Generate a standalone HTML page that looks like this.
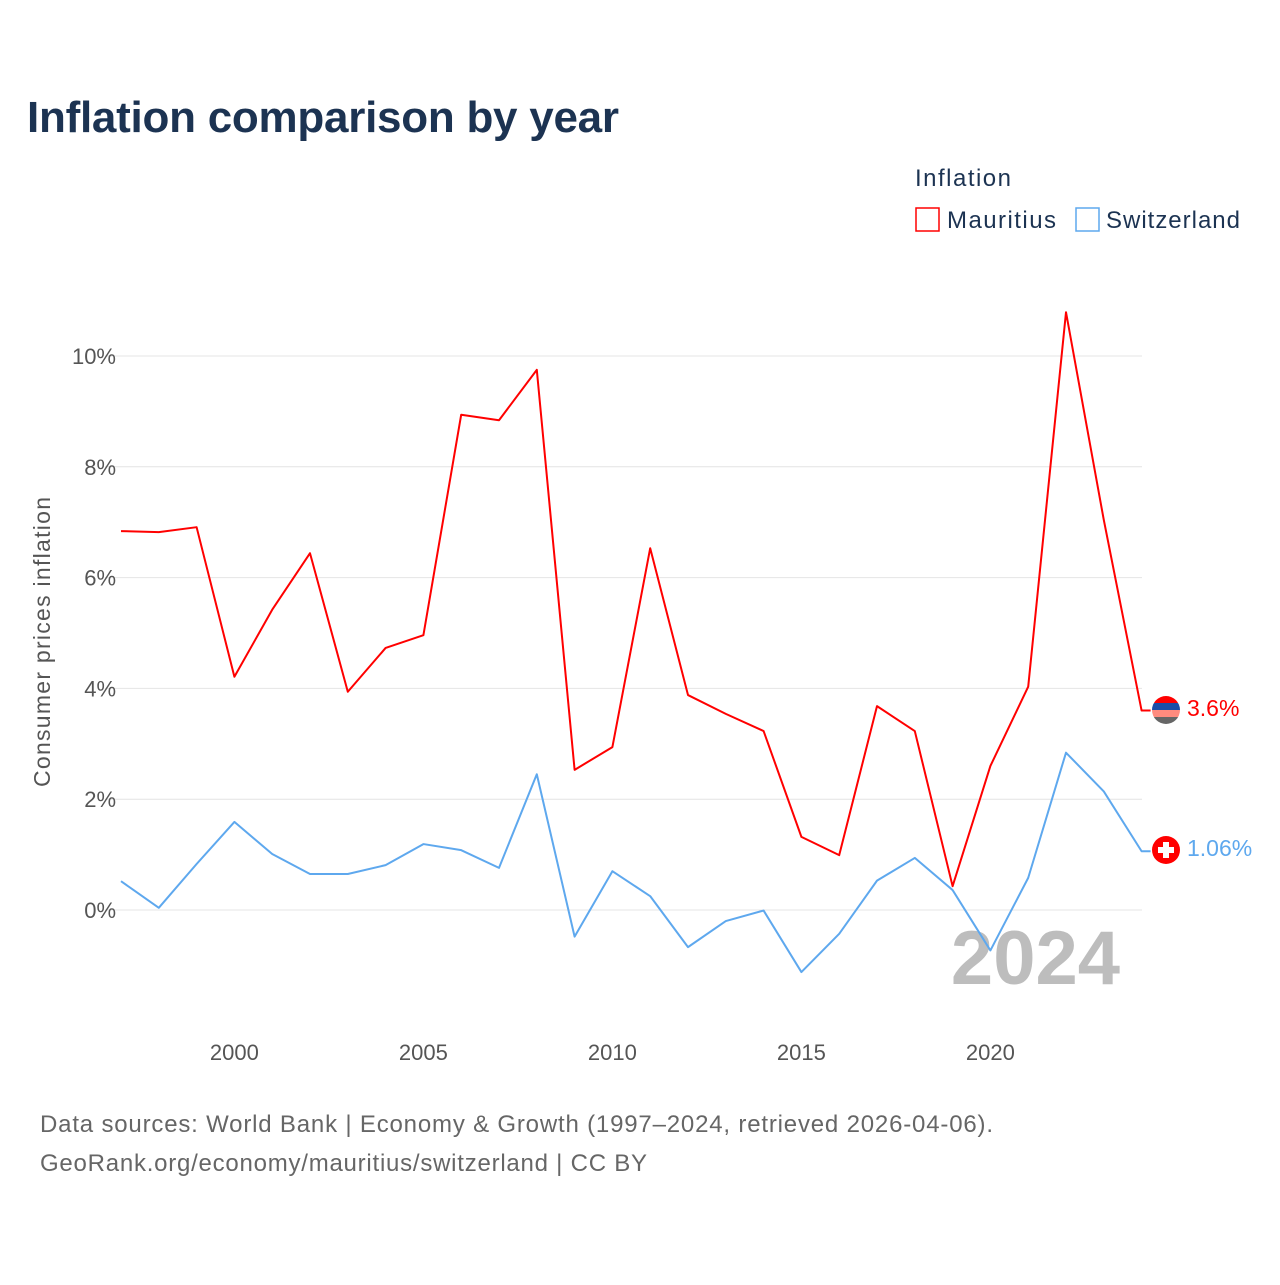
<!DOCTYPE html>
<html><head><meta charset="utf-8"><style>
body{margin:0;background:#fff;font-family:"Liberation Sans",sans-serif}
svg text{font-family:"Liberation Sans",sans-serif}
</style></head><body>
<svg width="1280" height="1280" viewBox="0 0 1280 1280">
<text x="27" y="132" font-size="44" font-weight="bold" fill="#1c3352" textLength="592">Inflation comparison by year</text>
<text x="915" y="186" font-size="24" fill="#1c3352" textLength="96">Inflation</text>
<g><rect x="916" y="208" width="23" height="23" fill="none" stroke="#f00" stroke-width="1.5"/><text x="947" y="228" font-size="24" fill="#1c3352" textLength="109">Mauritius</text></g>
<g><rect x="1076" y="208" width="23" height="23" fill="none" stroke="#5ea8ee" stroke-width="1.5"/><text x="1106" y="228" font-size="24" fill="#1c3352" textLength="134">Switzerland</text></g>
<g id="grid"></g><g id="xt"></g>
<text transform="translate(50,642) rotate(-90)" text-anchor="middle" font-size="23" fill="#555" textLength="290">Consumer prices inflation</text>
<text x="1120" y="984" text-anchor="end" font-size="76" font-weight="bold" fill="#bdbdbd">2024</text>
<g id="lines"></g>
<g>
<clipPath id="cm"><circle cx="1166" cy="710" r="14"/></clipPath>
<g clip-path="url(#cm)"><rect x="1152" y="696" width="28" height="7" fill="#f00"/><rect x="1152" y="703" width="28" height="7" fill="#1a4ea8"/><rect x="1152" y="710" width="28" height="7" fill="#ff8b7e"/><rect x="1152" y="717" width="28" height="7" fill="#666"/></g></g>
<g><circle cx="1166" cy="850" r="14" fill="#f00"/><rect x="1163" y="842" width="6" height="16" fill="#fff"/><rect x="1158" y="847" width="16" height="6" fill="#fff"/></g>
<text x="1187" y="716" font-size="23" fill="#f00">3.6%</text>
<text x="1187" y="856" font-size="23" fill="#5ea8ee">1.06%</text>
<text x="40" y="1132" font-size="24" fill="#666" textLength="953">Data sources: World Bank | Economy &amp; Growth (1997–2024, retrieved 2026-04-06).</text>
<text x="40" y="1171" font-size="24" fill="#666" textLength="607">GeoRank.org/economy/mauritius/switzerland | CC BY</text>
</svg>
<script>
const years=[1997,1998,1999,2000,2001,2002,2003,2004,2005,2006,2007,2008,2009,2010,2011,2012,2013,2014,2015,2016,2017,2018,2019,2020,2021,2022,2023,2024];
const mauritius=[6.84,6.82,6.91,4.21,5.42,6.44,3.94,4.73,4.96,8.94,8.84,9.75,2.53,2.94,6.53,3.88,3.54,3.23,1.32,0.99,3.68,3.23,0.43,2.6,4.03,10.79,7.04,3.6];
const switzerland=[0.52,0.04,0.83,1.59,1.01,0.65,0.65,0.81,1.19,1.08,0.76,2.45,-0.48,0.70,0.25,-0.67,-0.2,-0.01,-1.12,-0.43,0.53,0.94,0.36,-0.73,0.58,2.84,2.14,1.06];
const yTicks=[0,2,4,6,8,10];
const xTicks=[2000,2005,2010,2015,2020];
const X=y=>121+(y-1997)*37.8, Y=v=>910-v*55.4;
const NS="http://www.w3.org/2000/svg";
function mk(t,a,p){const e=document.createElementNS(NS,t);for(const k in a)e.setAttribute(k,a[k]);p.appendChild(e);return e;}
const g=document.getElementById('grid');
yTicks.forEach(v=>{
const l=mk('line',{x1:105,x2:1142,y1:Y(v),y2:Y(v),stroke:'#e4e4e4','stroke-width':1},g);


const t=mk('text',{x:116,y:Y(v)+8,'text-anchor':'end','font-size':22,fill:'#555'},g);t.textContent=v+'%';


});
const xt=document.getElementById('xt');
xTicks.forEach(v=>{
const t=mk('text',{x:X(v),y:1060,'text-anchor':'middle','font-size':22,fill:'#555'},xt);t.textContent=v;


});
const L=document.getElementById('lines');
[[mauritius,'#f00','mauritius-line'],[switzerland,'#5ea8ee','switzerland-line']].forEach(([d,c,n])=>{
let pts=d.map((v,i)=>X(years[i])+','+Y(v));
pts.push((X(years[years.length-1])+9)+','+Y(d[d.length-1]));
const p=mk('polyline',{points:pts.join(' '),fill:'none',stroke:c,'stroke-width':2,'stroke-linejoin':'round'},L);


});
</script>
</body></html>
